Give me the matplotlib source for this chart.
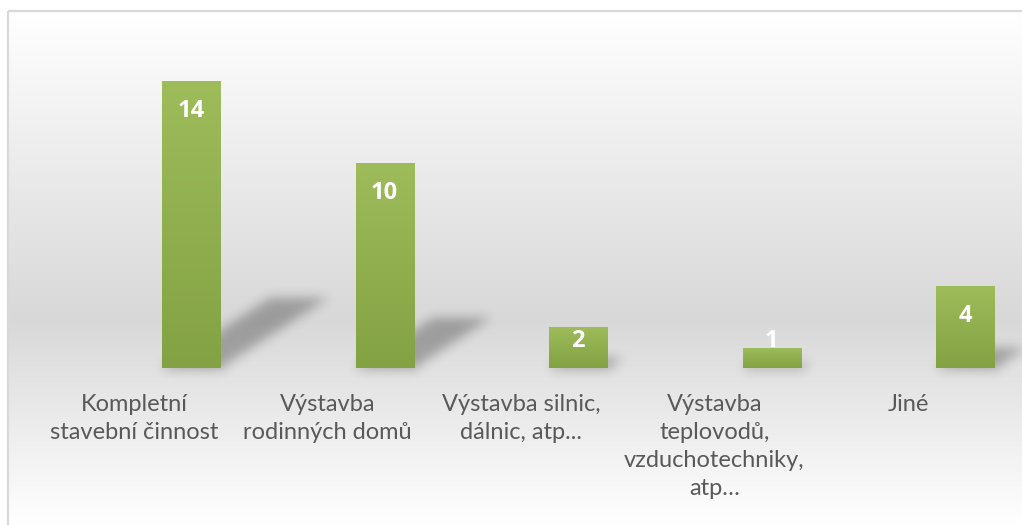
import numpy as np
import matplotlib
matplotlib.use("Agg")
import matplotlib.pyplot as plt
from matplotlib.path import Path

# ---- data ----
categories = ["Kompletní\nstavební činnost",
              "Výstavba\nrodinných domů",
              "Výstavba silnic,\ndálnic, atp...",
              "Výstavba\nteplovodů,\nvzduchotechniky,\natp…",
              "Jiné"]
values = [14, 10, 2, 1, 4]

# ---- layout / style ----
W, H = 1022, 525
FONT = ["Lato", "DejaVu Sans"]
NUMFONT = ["Open Sans", "DejaVu Sans"]
fig = plt.figure(figsize=(W / 100, H / 100), dpi=100)
fig.patch.set_facecolor("white")

# background gradient + border
bg = fig.add_axes([0, 0, 1, 1], zorder=-5)
bg.set_axis_off()
ys = np.linspace(11, H, 300)
g = np.interp(ys, [11, 320, H], [1.0, 0.847, 1.0])
img = np.dstack([g[:, None]] * 3)
bg.imshow(img, extent=[8, W, H, 11], aspect="auto", origin="upper")
bg.plot([8, 8], [H, 11], color="#d9d9d9", lw=1.6, solid_capstyle="butt")
bg.plot([8, W], [11, 11], color="#d9d9d9", lw=1.6, solid_capstyle="butt")
bg.set_xlim(0, W)
bg.set_ylim(H, 0)

# main axes
base_px = 157
top_px = 514
ax = fig.add_axes([0, base_px / H, 1, (top_px - base_px) / H])
ax.patch.set_alpha(0)
cat_px = 193.5
unit_px = 20.5
xlim = (-134 / cat_px, (W - 134) / cat_px)
ylim = (0, (top_px - base_px) / unit_px)

xs = np.arange(len(values))
bar_off = 0.295
bar_w = 0.3

# shadows (blurred skewed projection of each bar)
ext_below = 12
nx, ny = W, (top_px - base_px) + ext_below
px = xlim[0] + (np.arange(nx) + 0.5) / cat_px
py = (np.arange(ny) - ext_below + 0.5) / unit_px
PX, PY = np.meshgrid(px, py)
pts = np.column_stack([PX.ravel(), PY.ravel()])
mask = np.zeros(PX.size, dtype=float)
sx, sy = 0.04, 0.245
for x, v in zip(xs, values):
    x0 = x + bar_off - bar_w / 2
    x1 = x0 + bar_w
    poly = Path([(x0, 0), (x1, 0), (x1 + sx * v, sy * v), (x0 + sx * v, sy * v), (x0, 0)])
    mask = np.maximum(mask, poly.contains_points(pts).astype(float))
    base = Path([(x0 + 0.01, -0.12), (x1 + 0.03, -0.12), (x1 + 0.03, 0.25),
                 (x0 + 0.01, 0.25), (x0 + 0.01, -0.12)])
    mask = np.maximum(mask, 0.6 * base.contains_points(pts).astype(float))
mask = mask.reshape(ny, nx)
sig = 5.5
k = np.arange(-16, 17)
kern = np.exp(-k ** 2 / (2 * sig ** 2))
kern /= kern.sum()
blur = np.apply_along_axis(lambda r: np.convolve(r, kern, mode="same"), 1, mask)
blur = np.apply_along_axis(lambda c: np.convolve(c, kern, mode="same"), 0, blur)
shadow = np.zeros((ny, nx, 4))
shadow[..., 3] = 0.28 * blur
ax.imshow(shadow, extent=[xlim[0], xlim[1], -ext_below / unit_px, ylim[1]],
          origin="lower", aspect="auto", zorder=1, interpolation="bilinear", clip_on=False)

# bars with vertical gradient
top_c = np.array([158, 188, 90]) / 255
bot_c = np.array([131, 162, 67]) / 255
t = np.linspace(0, 1, 128)[:, None]
grad = (top_c[None, None, :] * (1 - t[..., None]) + bot_c[None, None, :] * t[..., None])
bars = ax.bar(xs + bar_off, values, width=bar_w, color="#8fae50", zorder=2, linewidth=0)
for b in bars:
    x0, w_, h_ = b.get_x(), b.get_width(), b.get_height()
    im = ax.imshow(grad, extent=[x0, x0 + w_, 0, h_], origin="upper", aspect="auto", zorder=3)
    im.set_clip_path(b)

# data labels (inside end, kept inside plot near base for short bars)
for x, v in zip(xs, values):
    yl = max(v * unit_px - 30, 27) / unit_px
    ax.text(x + bar_off, yl, str(v), ha="center", va="center", color="white",
            fontsize=17, fontweight="bold", family=NUMFONT, zorder=5)

ax.set_xlim(*xlim)
ax.set_ylim(*ylim)
ax.set_xticks(xs)
ax.set_xticklabels(categories, fontsize=17, color="#595959", family=FONT, linespacing=1.4)
ax.tick_params(axis="x", length=0, pad=19)
ax.set_yticks([])
for s in ax.spines.values():
    s.set_visible(False)

fig.savefig("out.png", dpi=100)
